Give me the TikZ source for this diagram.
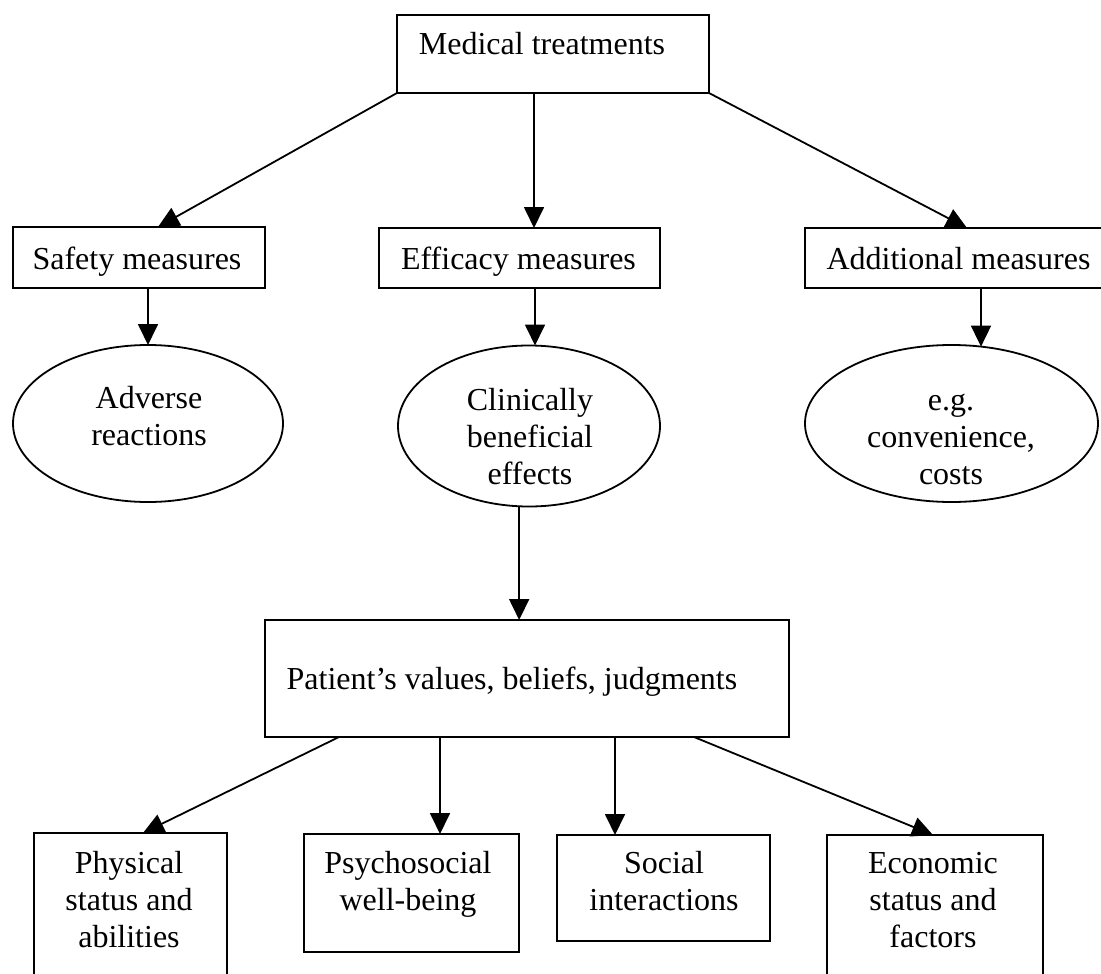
\documentclass[tikz,border=0pt]{standalone}
\usepackage{fontspec}
\setmainfont{Liberation Serif}
\usetikzlibrary{arrows.meta,shapes.geometric,calc}
\begin{document}
\begin{tikzpicture}[x=1pt,y=-1pt,
  every node/.style={inner sep=0pt, outer sep=0pt},
  bx/.style={draw, line width=1.8pt, rectangle},
  ell/.style={draw, line width=1.8pt, ellipse},
  lbl/.style={font=\fontsize{32}{37}\selectfont, align=center, anchor=base},
  arr/.style={line width=1.8pt, -{Triangle[length=21pt,width=20pt]}}]
\useasboundingbox (0,0) rectangle (1101,974);
\clip (0,0) rectangle (1101,974);
% boxes
\node[bx, minimum width=312pt, minimum height=78pt] (med) at (553,54) {};
\node[bx, minimum width=252pt, minimum height=61pt] (saf) at (139,257.5) {};
\node[bx, minimum width=281pt, minimum height=60pt] (eff) at (519.5,258) {};
\node[bx, minimum width=315pt, minimum height=60pt] (add) at (962.5,258) {};
\node[ell, minimum width=270pt, minimum height=157pt] (adv) at (148,423.5) {};
\node[ell, minimum width=262pt, minimum height=161pt] (cli) at (529,426) {};
\node[ell, minimum width=293pt, minimum height=157pt] (eg) at (951.5,423.5) {};
\node[bx, minimum width=524pt, minimum height=117pt] (pat) at (527,678.5) {};
\node[bx, minimum width=193pt, minimum height=167pt] (phy) at (130.5,916.5) {};
\node[bx, minimum width=215pt, minimum height=118pt] (psy) at (411.5,893) {};
\node[bx, minimum width=213pt, minimum height=106pt] (soc) at (663.5,888) {};
\node[bx, minimum width=216pt, minimum height=165pt] (eco) at (935,917.5) {};
% labels (anchor=base is the baseline of the last line)
\node[lbl] (tmed) at (542,55) {Medical treatments};
\node[lbl] (tsaf) at (137,269) {Safety measures};
\node[lbl] (teff) at (518.5,269) {Efficacy measures};
\node[lbl] (tadd) at (958.5,269) {Additional measures};
\node[lbl] (tadv) at (149,445) {Adverse\\reactions};
\node[lbl] (tcli) at (530,484) {Clinically\\beneficial\\effects};
\node[lbl] (teg) at (951,484) {e.g.\\convenience,\\costs};
\node[lbl] (tpat) at (512,689) {Patient’s values, beliefs, judgments};
\node[lbl] (tphy) at (129,947) {Physical\\status and\\abilities};
\node[lbl] (tpsy) at (408,910) {Psychosocial\\well-being};
\node[lbl] (tsoc) at (664,910) {Social\\interactions};
\node[lbl] (teco) at (933,947) {Economic\\status and\\factors};
% helper x positions
\coordinate (xs) at (158,0);
\coordinate (xm) at (534,0);
\coordinate (xr) at (967,0);
\coordinate (xe) at (535,0);
\coordinate (xb1) at (339,0);
\coordinate (xb1e) at (143,0);
\coordinate (xb2) at (440,0);
\coordinate (xb3) at (615,0);
\coordinate (xb4) at (694,0);
\coordinate (xb4e) at (933,0);
% connectors
\draw[arr] (med.south west) -- (saf.north -| xs);
\draw[arr] (med.south -| xm) -- (eff.north -| xm);
\draw[arr] (med.south east) -- (add.north -| xr);
\draw[arr] (saf.south -| adv.north) -- (adv.north);
\draw[arr] (eff.south -| xe) -- (cli.north -| xe);
\draw[arr] (add.south -| eg.69.7) -- (eg.69.7);
\draw[arr] (cli.-97.8) -- (pat.north -| cli.-97.8);
\draw[arr] (pat.south -| xb1) -- (phy.north -| xb1e);
\draw[arr] (pat.south -| xb2) -- (psy.north -| xb2);
\draw[arr] (pat.south -| xb3) -- (soc.north -| xb3);
\draw[arr] (pat.south -| xb4) -- (eco.north -| xb4e);
\end{tikzpicture}
\end{document}
